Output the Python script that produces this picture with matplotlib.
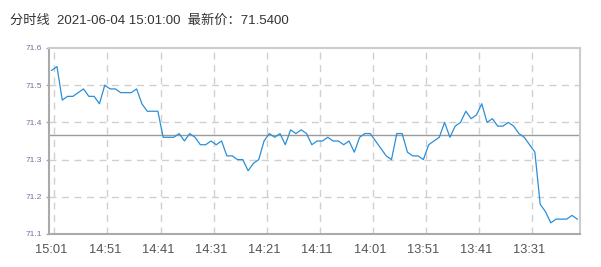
import pandas as pd
import matplotlib
matplotlib.use("Agg")
import matplotlib.pyplot as plt

plt.rcParams['font.family'] = ['Liberation Sans', 'Noto Sans CJK SC', 'DejaVu Sans']

# minute bars, newest first (15:01 back to 13:22)
times = [t.strftime("%H:%M") for t in pd.date_range("2021-06-04 13:22", "2021-06-04 15:01", freq="min")][::-1]
prices = [71.54, 71.55, 71.46, 71.47, 71.47, 71.48, 71.49, 71.47, 71.47, 71.45,
          71.50, 71.49, 71.49, 71.48, 71.48, 71.48, 71.49, 71.45, 71.43, 71.43,
          71.43, 71.36, 71.36, 71.36, 71.37, 71.35, 71.37, 71.36, 71.34, 71.34,
          71.35, 71.34, 71.35, 71.31, 71.31, 71.30, 71.30, 71.27, 71.29, 71.30,
          71.35, 71.37, 71.36, 71.37, 71.34, 71.38, 71.37, 71.38, 71.37, 71.34,
          71.35, 71.35, 71.36, 71.35, 71.35, 71.34, 71.35, 71.32, 71.36, 71.37,
          71.37, 71.35, 71.33, 71.31, 71.30, 71.37, 71.37, 71.32, 71.31, 71.31,
          71.30, 71.34, 71.35, 71.36, 71.40, 71.36, 71.39, 71.40, 71.43, 71.41,
          71.42, 71.45, 71.40, 71.41, 71.39, 71.39, 71.40, 71.39, 71.37, 71.36,
          71.34, 71.32, 71.18, 71.16, 71.13, 71.14, 71.14, 71.14, 71.15, 71.14]
ref_price = 71.365
y_ticks = [71.1, 71.2, 71.3, 71.4, 71.5, 71.6]
title = "分时线  2021-06-04 15:01:00  最新价：71.5400"


def main():
    fig = plt.figure(figsize=(6.01, 2.67), dpi=100)
    ax = fig.add_axes([49 / 601, 1 - 234 / 267, 531 / 601, 186 / 267])

    x = list(range(len(prices)))
    ax.plot(x, prices, color='#2a8fd8', lw=0.9, zorder=3)
    ax.axhline(ref_price, color='#9a9a9a', lw=1.0, zorder=2)

    # dashed grid
    for v in y_ticks[1:-1]:
        ax.axhline(v, color='#d0d0d0', lw=1.0, ls=(0, (5, 4)), zorder=1)
    tick_idx = list(range(0, len(times), 10))
    for i in tick_idx:
        ax.axvline(i + 0.5, color='#d0d0d0', lw=1.0, ls=(0, (5, 4)), zorder=1)

    ax.set_xlim(-0.5, len(prices) - 0.5)
    ax.set_ylim(y_ticks[0], y_ticks[-1])
    ax.set_yticks(y_ticks)
    ax.set_yticklabels([f"{v:.1f}" for v in y_ticks], fontsize=6, color='#7272a0')
    ax.set_xticks(tick_idx)
    ax.set_xticklabels([times[i] for i in tick_idx], fontsize=9.3, color='#555555')
    ax.tick_params(axis='y', length=2, width=1, color='#aaaaaa', pad=3)
    ax.tick_params(axis='x', length=0, pad=7)

    for side in ['top', 'right']:
        ax.spines[side].set_color('#cccccc')
        ax.spines[side].set_linewidth(1.5)
    for side in ['left', 'bottom']:
        ax.spines[side].set_color('#aaaaaa')
        ax.spines[side].set_linewidth(1.5)

    fig.text(10 / 601, 1 - 20.5 / 267, title, fontsize=9.5, color='#333333', va='center', ha='left')
    fig.savefig("out.png", dpi=100)


if __name__ == "__main__":
    main()
